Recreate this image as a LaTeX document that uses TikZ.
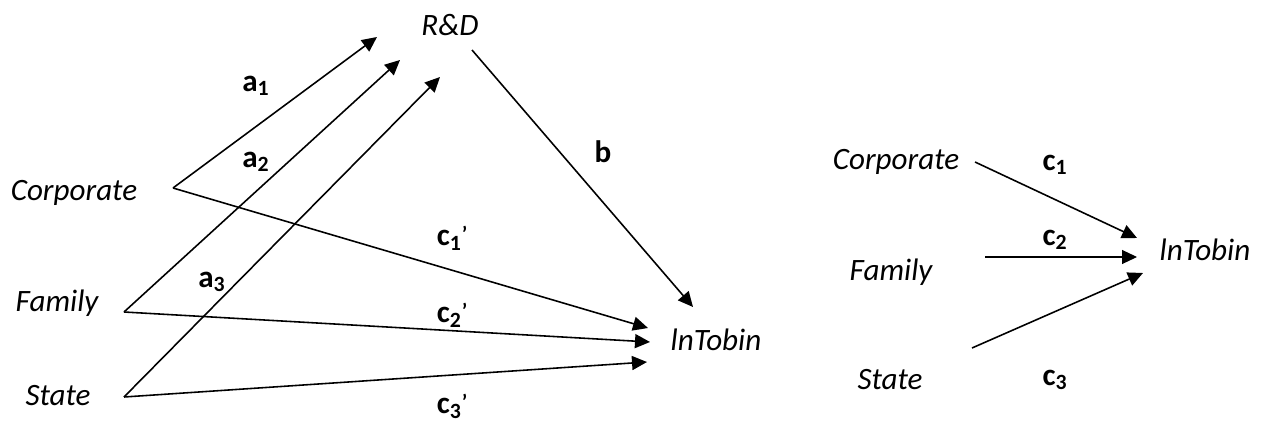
\documentclass[tikz,border=0pt]{standalone}
\usepackage{fontspec}
\setmainfont{Carlito}
\usepackage{tikz}
\usetikzlibrary{arrows.meta}
\tikzset{
  var/.style={font=\itshape\fontsize{17.7}{21}\selectfont, inner sep=0pt},
  coef/.style={font=\bfseries\fontsize{17.7}{21}\selectfont, inner sep=0pt},
  effect/.style={-{Triangle[length=0.3cm,width=0.28cm]}, line width=0.9pt}
}
\newcommand{\coefsub}[2]{\textbf{#1}\textsubscript{\textbf{#2}}}
\newcommand{\coefprime}{\raisebox{0.3ex}{\fontsize{12}{14}\selectfont\bfseries ’}}

\begin{document}
\begin{tikzpicture}[x=0.02cm,y=-0.02cm]
\useasboundingbox (0,0) rectangle (1263,425);
% mediation model
\node[var] (rd) at (450,25) {R\&D};
\node[var] (corp) at (74,193) {Corporate};
\node[var] (fam) at (57,303) {Family};
\node[var] (state) at (58,396) {State};
\node[var] (tobin) at (716,340) {lnTobin};
\coordinate (corpO) at (173,188);
\coordinate (famO) at (124,312);
\coordinate (stateO) at (124,397);
\coordinate (rdA) at (377,37);
\coordinate (rdB) at (400,60);
\coordinate (rdC) at (440,77);
\coordinate (rdO) at (472,50);
\coordinate (tobinA) at (693,307);
\coordinate (tobinB) at (648,328);
\coordinate (tobinC) at (650,342);
\coordinate (tobinD) at (647,362);
\draw[effect] (corpO) -- (rdA);
\draw[effect] (famO) -- (rdB);
\draw[effect] (stateO) -- (rdC);
\draw[effect] (rdO) -- (tobinA);
\draw[effect] (corpO) -- (tobinB);
\draw[effect] (famO) -- (tobinC);
\draw[effect] (stateO) -- (tobinD);
\node[coef] (a1) at (256,86) {\coefsub{a}{1}};
\node[coef] (a2) at (256,162) {\coefsub{a}{2}};
\node[coef] (a3) at (212,282) {\coefsub{a}{3}};
\node[coef] (b) at (603,152) {b};
\node[coef] (c1p) at (452,238) {\coefsub{c}{1}\coefprime};
\node[coef] (c2p) at (452,315) {\coefsub{c}{2}\coefprime};
\node[coef] (c3p) at (452,406) {\coefsub{c}{3}\coefprime};
% total effect model
\node[var] (corp2) at (896,162) {Corporate};
\node[var] (fam2) at (891,272) {Family};
\node[var] (state2) at (890,380) {State};
\node[var] (tobin2) at (1205,250) {lnTobin};
\coordinate (corp2O) at (975,162);
\coordinate (fam2O) at (985,257);
\coordinate (state2O) at (972,348);
\coordinate (tobin2A) at (1137,238);
\coordinate (tobin2B) at (1137,257);
\coordinate (tobin2C) at (1143,273);
\draw[effect] (corp2O) -- (tobin2A);
\draw[effect, line width=0.6pt] (fam2O) -- (tobin2B);
\draw[effect] (state2O) -- (tobin2C);
\node[coef] (c1) at (1055,165) {\coefsub{c}{1}};
\node[coef] (c2) at (1055,240) {\coefsub{c}{2}};
\node[coef] (c3) at (1055,380) {\coefsub{c}{3}};
\end{tikzpicture}
\end{document}
